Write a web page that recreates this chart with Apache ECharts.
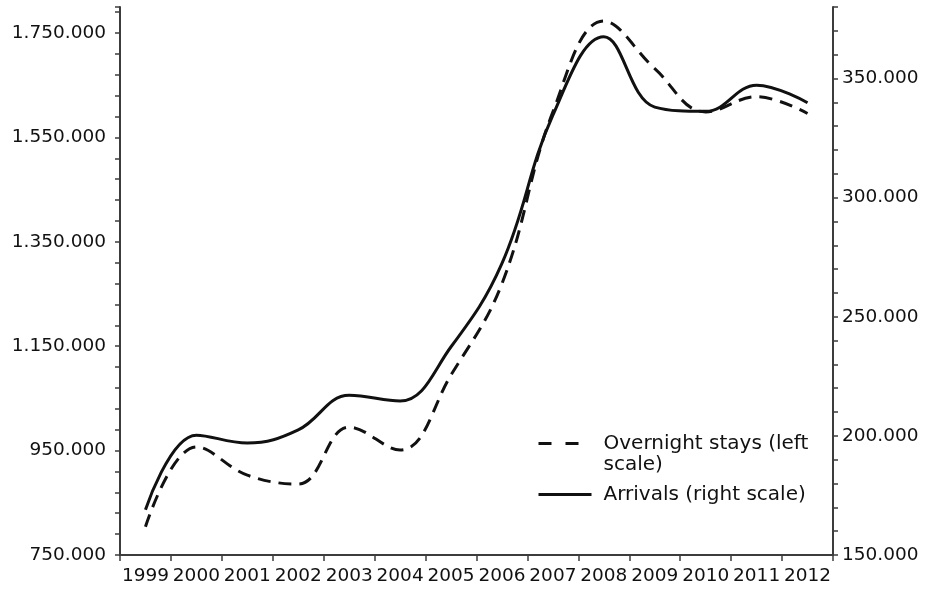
<!DOCTYPE html>
<html>
<head>
<meta charset="utf-8">
<script src="https://cdn.jsdelivr.net/npm/echarts@6/dist/echarts.min.js"></script>
<style>
html,body{margin:0;padding:0;background:#fff;}
#chart{width:928px;height:590px;}
</style>
</head>
<body>
<div id="chart"></div>
<script>
const years = ['1999','2000','2001','2002','2003','2004','2005','2006','2007','2008','2009','2010','2011','2012'];
const overnightStays = [804000, 957000, 903000, 886000, 995000, 951000, 1095000, 1270000, 1599000, 1773000, 1682000, 1599000, 1628000, 1596000];
const arrivals = [169000, 200300, 197000, 202500, 217000, 214600, 237400, 272400, 334600, 367500, 338000, 336200, 347200, 339800];
const leftTicks = [750000, 950000, 1150000, 1350000, 1550000, 1750000];
const rightTicks = [150000, 200000, 250000, 300000, 350000];

const fmt = v => String(v).replace(/\B(?=(\d{3})+(?!\d))/g, '.');
const FONT = 'DejaVu Sans';
const AX = '#3c3c3c';

const chart = echarts.init(document.getElementById('chart'), null, {renderer: 'canvas'});
chart.setOption({
  backgroundColor: '#fff',
  animation: false,
  grid: {left: 120, right: 95, top: 7, bottom: 35, containLabel: false},
  legend: {
    orient: 'vertical',
    left: 537,
    top: 412,
    padding: 0,
    itemWidth: 53,
    itemHeight: 14,
    itemGap: 9,
    itemStyle: {color: 'transparent', borderColor: 'transparent', borderWidth: 0, opacity: 0},
    lineStyle: {width: 3},
    formatter: name => name === 'Overnight stays (left scale)' ? '\nOvernight stays (left\nscale)' : name,
    textStyle: {fontFamily: FONT, fontSize: 20, color: '#111', lineHeight: 21, padding: [0, 0, 0, 7]},
    data: [
      {name: 'Overnight stays (left scale)', lineStyle: {width: 3, type: [13, 14]}},
      {name: 'Arrivals (right scale)', lineStyle: {width: 3}}
    ]
  },
  xAxis: {
    type: 'category',
    data: years,
    boundaryGap: true,
    axisLine: {lineStyle: {color: AX, width: 2}},
    axisTick: {show: true, length: 6, inside: false, lineStyle: {color: AX, width: 1.5}},
    axisLabel: {fontFamily: FONT, fontSize: 18.5, color: '#111', margin: 12, interval: 0},
    splitLine: {show: false}
  },
  yAxis: [
    {
      type: 'value',
      position: 'left',
      min: 750000,
      max: 1800000,
      interval: 40000,
      axisLine: {show: true, lineStyle: {color: AX, width: 2}},
      axisTick: {show: true, length: 5, lineStyle: {color: AX, width: 1.5}},
      axisLabel: {
        fontFamily: FONT, fontSize: 18.5, color: '#111', margin: 14,
        formatter: v => leftTicks.includes(v) ? fmt(v) : ''
      },
      splitLine: {show: false}
    },
    {
      type: 'value',
      position: 'right',
      min: 150000,
      max: 380000,
      interval: 10000,
      axisLine: {show: true, lineStyle: {color: AX, width: 2}},
      axisTick: {show: true, length: 5, lineStyle: {color: AX, width: 1.5}},
      axisLabel: {
        fontFamily: FONT, fontSize: 18.5, color: '#111', margin: 9,
        formatter: v => rightTicks.includes(v) ? fmt(v) : ''
      },
      splitLine: {show: false}
    }
  ],
  series: [
    {
      name: 'Overnight stays (left scale)',
      type: 'line',
      yAxisIndex: 0,
      data: overnightStays,
      smooth: 0.4,
      symbol: 'none',
      lineStyle: {color: '#111', width: 3, type: [13, 8]},
      itemStyle: {color: '#111'}
    },
    {
      name: 'Arrivals (right scale)',
      type: 'line',
      yAxisIndex: 1,
      data: arrivals,
      smooth: 0.4,
      symbol: 'none',
      lineStyle: {color: '#111', width: 3, type: 'solid'},
      itemStyle: {color: '#111'}
    }
  ]
});
</script>
</body>
</html>
